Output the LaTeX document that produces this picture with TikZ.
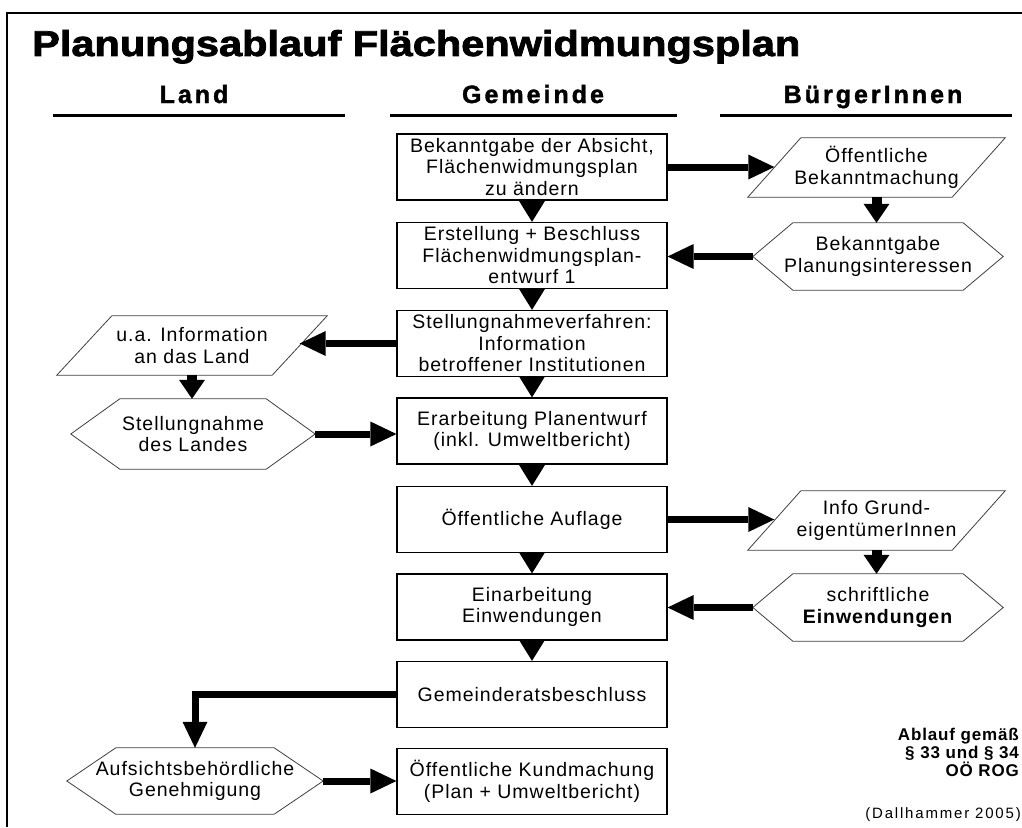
\documentclass[tikz,border=0pt]{standalone}
\usepackage{fontspec}
\setmainfont{Liberation Sans}
\newfontfamily\bodyfont{Liberation Sans}[LetterSpace=5]
\newfontfamily\headfont{Liberation Sans}[LetterSpace=12, BoldFeatures={FakeBold=1.5}]
\newfontfamily\titlefont{Liberation Sans}[BoldFeatures={FakeBold=2}]
\newfontfamily\notefont{Liberation Sans}[LetterSpace=12]
\newfontfamily\abfont{Liberation Sans}[LetterSpace=5]
\usetikzlibrary{arrows.meta,calc}
\newcommand\parashape[2]{\draw[shapeline] (#1.south west) -- ($(#1.north west)+(#2,0)$) -- (#1.north east) -- ($(#1.south east)-(#2,0)$) -- cycle;}
\newcommand\hexshape[2]{\draw[shapeline] (#1.west) -- ($(#1.north west)+(#2,0)$) -- ($(#1.north east)-(#2,0)$) -- (#1.east) -- ($(#1.south east)-(#2,0)$) -- ($(#1.south west)+(#2,0)$) -- cycle;}
\begin{document}
\begin{tikzpicture}[x=1pt,y=-1pt,
  bodytext/.style={font=\bodyfont\fontsize{19.5}{21.5}\selectfont},
  gbox/.style={draw, line width=1.2pt, minimum width=270pt, minimum height=66pt, inner sep=0pt, align=center, bodytext},
  shapenode/.style={inner sep=0pt, align=center, bodytext},
  shapeline/.style={draw=black!75, line width=0.8pt, line join=miter},
  headtext/.style={font=\headfont\bfseries\fontsize{25}{28}\selectfont, inner sep=0pt},
  headline/.style={line width=3pt},
  harrow/.style={line width=7pt, line join=miter, -{Triangle[length=26pt,width=25pt,line width=0pt]}},
  varrow/.style={line width=10pt, -{Triangle[length=19pt,width=26pt,line width=0pt]}},
  tarrow/.style={line width=0.1pt, -{Triangle[length=21pt,width=26pt,line width=0pt]}}
]
\useasboundingbox (0,0) rectangle (1022,827);
\fill[white] (0,0) rectangle (1022,827);
% frame
\draw[line width=1.3pt] (7,827) -- (7,13) -- (1022,13);
% title
\node[anchor=base west, inner sep=0pt] (title) at (32,56) {\resizebox{768pt}{26pt}{\titlefont\bfseries Planungsablauf Flächenwidmungsplan}};
% headings
\node[headtext, anchor=base] (hland) at (194,103) {Land};
\node[headtext, anchor=base] (hgem) at (533,103) {Gemeinde};
\node[headtext, anchor=base] (hbuerg) at (873,103) {BürgerInnen};
\draw[headline] (53,115) -- (345,115);
\draw[headline] (390,115) -- (677,115);
\draw[headline] (720,115) -- (1012,115);
% Gemeinde boxes
\node[gbox] (b1) at (532,167) {Bekanntgabe der Absicht,\\Flächenwidmungsplan\\zu ändern};
\node[gbox] (b2) at (532,255.5) {Erstellung + Beschluss\\Flächenwidmungsplan-\\entwurf 1};
\node[gbox] (b3) at (532,343.5) {Stellungnahmeverfahren:\\Information\\betroffener Institutionen};
\node[gbox] (b4) at (532,431) {Erarbeitung Planentwurf\\(inkl. Umweltbericht)};
\node[gbox] (b5) at (532,519.5) {Öffentliche Auflage};
\node[gbox] (b6) at (532,607) {Einarbeitung\\Einwendungen};
\node[gbox] (b7) at (532,694.5) {Gemeinderatsbeschluss};
\node[gbox] (b8) at (532,781.5) {Öffentliche Kundmachung\\(Plan + Umweltbericht)};
% BürgerInnen shapes
\node[shapenode, minimum width=257pt, minimum height=59pt] (p1) at (876.5,167.5) {Öffentliche\\Bekanntmachung};
\parashape{p1}{53}
\node[shapenode, minimum width=250pt, minimum height=67pt] (h1) at (878,256.5) {Bekanntgabe\\Planungsinteressen};
\hexshape{h1}{40}
\node[shapenode, minimum width=257pt, minimum height=59pt] (p2) at (876.5,520.5) {Info Grund-\\eigentümerInnen};
\parashape{p2}{53}
\node[shapenode, minimum width=250pt, minimum height=67pt] (h2) at (878,607.5) {schriftliche\\\textbf{Einwendungen}};
\hexshape{h2}{40}
% Land shapes
\node[shapenode, minimum width=270pt, minimum height=59pt] (pl) at (192,345.5) {u.a. Information\\an das Land};
\parashape{pl}{55}
\node[shapenode, minimum width=244pt, minimum height=70pt] (hl1) at (193,434) {Stellungnahme\\des Landes};
\hexshape{hl1}{49}
\node[shapenode, minimum width=256pt, minimum height=66pt] (hl2) at (195,781) {Aufsichtsbehördliche\\Genehmigung};
\hexshape{hl2}{49}
% slanted edge midpoints
\coordinate (p1in) at ($(p1.west)+(26.5,0)$);
\coordinate (p2in) at ($(p2.west)+(26.5,0)$);
\coordinate (plin) at ($(pl.east)-(27.5,0)$);
% vertical Gemeinde arrows
\draw[tarrow] (b1.south) -- (b2.north);
\draw[tarrow] (b2.south) -- (b3.north);
\draw[tarrow] (b3.south) -- (b4.north);
\draw[tarrow] (b4.south) -- (b5.north);
\draw[tarrow] (b5.south) -- (b6.north);
\draw[tarrow] (b6.south) -- (b7.north);
% horizontal arrows
\draw[harrow] (b1.east) -- (b1.east -| p1in);
\draw[harrow] (h1.west) -- (h1.west -| b2.east);
\draw[harrow] (b3.west) -- (b3.west -| plin);
\draw[harrow] (hl1.east) -- (hl1.east -| b4.west);
\draw[harrow] (b5.east) -- (b5.east -| p2in);
\draw[harrow] (h2.west) -- (h2.west -| b6.east);
\draw[harrow] (hl2.east) -- (hl2.east -| b8.west);
\draw[harrow] (b7.west) -| (hl2.north);
% vertical side arrows
\draw[varrow] (p1.south) -- (p1.south |- h1.north);
\draw[varrow] (p2.south) -- (p2.south |- h2.north);
\draw[varrow] (pl.south) -- (pl.south |- hl1.north);
% notes
\node[anchor=east, align=right, inner sep=0pt, font=\abfont\bfseries\fontsize{17}{18}\selectfont] (ablauf) at (1019,752) {Ablauf gemäß\\§ 33 und § 34\\OÖ ROG};
\node[anchor=east, inner sep=0pt, font=\notefont\fontsize{15}{17}\selectfont] (quelle) at (1021,815) {(Dallhammer 2005)};
\end{tikzpicture}
\end{document}
